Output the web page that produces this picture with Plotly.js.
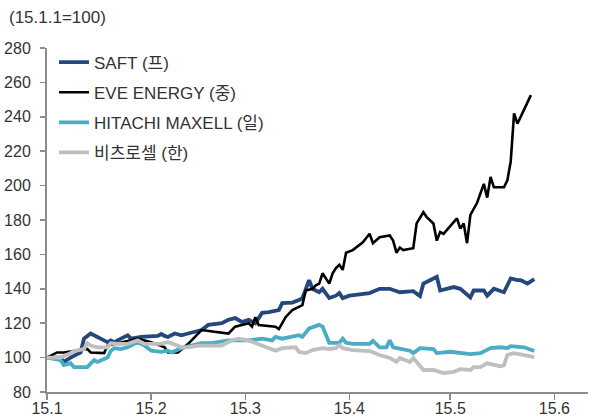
<!DOCTYPE html>
<html>
<head>
<meta charset="utf-8">
<script src="https://cdn.plot.ly/plotly-3.0.1.min.js"></script>
<style>html,body{margin:0;padding:0;background:#fff;}#chart{width:595px;height:418px;}</style>
</head>
<body>
<div id="chart"></div>
<script>
const seriesNames = ['SAFT (프)', 'EVE ENERGY (중)', 'HITACHI MAXELL (일)', '비츠로셀 (한)'];

const saftDates = ['2015-01-01','2015-01-05','2015-01-06','2015-01-08','2015-01-11','2015-01-12','2015-01-14','2015-01-16','2015-01-19','2015-01-20','2015-01-21','2015-01-23','2015-01-25','2015-01-26','2015-01-29','2015-02-03','2015-02-04','2015-02-05','2015-02-06','2015-02-08','2015-02-10','2015-02-12','2015-02-16','2015-02-18','2015-02-22','2015-02-24','2015-02-26','2015-02-28','2015-03-02','2015-03-04','2015-03-06','2015-03-08','2015-03-11','2015-03-12','2015-03-15','2015-03-17','2015-03-18','2015-03-20','2015-03-21','2015-03-23','2015-03-24','2015-03-26','2015-03-28','2015-03-29','2015-03-30','2015-04-01','2015-04-04','2015-04-07','2015-04-10','2015-04-11','2015-04-13','2015-04-16','2015-04-19','2015-04-20','2015-04-22','2015-04-23','2015-04-25','2015-04-27','2015-04-28','2015-05-02','2015-05-04','2015-05-07','2015-05-08','2015-05-11','2015-05-12','2015-05-14','2015-05-17','2015-05-19','2015-05-21','2015-05-22','2015-05-24','2015-05-26'];
const saftValues = [100,100,97.5,100,103,111,114,112,109,110,109,111,113,111,112,112.6,113.7,112.6,112,114,113,114,116,119,120,122,123,120.7,122,120,126,126.5,127.6,131.7,132,133.5,134.6,145,140,138,140,134.6,136,137.5,134.6,136,137,137.5,140,140,140,138,138.6,138.6,135.8,143,145,147,139,141,140,135,139,139,136,140,138,146,145,145,143,145.6];

const eveDates = ['2015-01-01','2015-01-04','2015-01-06','2015-01-09','2015-01-13','2015-01-14','2015-01-18','2015-01-19','2015-01-22','2015-01-25','2015-01-28','2015-02-01','2015-02-05','2015-02-06','2015-02-09','2015-02-12','2015-02-16','2015-02-21','2015-02-24','2015-02-26','2015-03-02','2015-03-03','2015-03-04','2015-03-05','2015-03-10','2015-03-11','2015-03-13','2015-03-15','2015-03-18','2015-03-19','2015-03-21','2015-03-22','2015-03-23','2015-03-24','2015-03-26','2015-03-27','2015-03-28','2015-03-29','2015-03-30','2015-03-31','2015-04-02','2015-04-05','2015-04-07','2015-04-08','2015-04-10','2015-04-13','2015-04-14','2015-04-15','2015-04-16','2015-04-17','2015-04-20','2015-04-21','2015-04-23','2015-04-24','2015-04-26','2015-04-27','2015-04-28','2015-04-29','2015-05-03','2015-05-04','2015-05-05','2015-05-06','2015-05-07','2015-05-09','2015-05-11','2015-05-12','2015-05-13','2015-05-14','2015-05-17','2015-05-18','2015-05-19','2015-05-20','2015-05-21','2015-05-25'];
const eveValues = [100,103,103,104,105,103,102.6,107,108.5,109.6,111,109,106,103,103,108,116,115,114,118,120,118,123.5,119,118,116.6,123.5,127.6,130.5,139,140,142,143,149,143,149,152,154,151,161,162.5,167,172,166.5,170,171,168,161,164,162.5,163.6,178,184.5,181.7,178,168,173,172,181,175,178,166.5,183,190,201,193,205,199,199,203,214,242,236,252.6];

const maxellDates = ['2015-01-01','2015-01-05','2015-01-06','2015-01-08','2015-01-09','2015-01-12','2015-01-13','2015-01-15','2015-01-16','2015-01-19','2015-01-20','2015-01-21','2015-01-23','2015-01-25','2015-01-26','2015-01-28','2015-01-30','2015-02-01','2015-02-04','2015-02-06','2015-02-07','2015-02-10','2015-02-13','2015-02-16','2015-02-19','2015-02-21','2015-02-24','2015-03-02','2015-03-06','2015-03-09','2015-03-10','2015-03-12','2015-03-14','2015-03-17','2015-03-18','2015-03-20','2015-03-23','2015-03-24','2015-03-26','2015-03-29','2015-03-30','2015-03-31','2015-04-02','2015-04-07','2015-04-08','2015-04-10','2015-04-12','2015-04-13','2015-04-14','2015-04-17','2015-04-19','2015-04-20','2015-04-22','2015-04-26','2015-04-27','2015-05-01','2015-05-07','2015-05-10','2015-05-13','2015-05-16','2015-05-18','2015-05-19','2015-05-23','2015-05-26'];
const maxellValues = [100,98.6,95.7,96.8,94.5,94.5,94.5,98.6,97.5,100,104,105.5,105,106,107,109,107,104,103.3,104,103,105.5,107,108.4,108.4,109,110,110,111,110,112,111,112,113,112,117,119,118,108.6,108.6,111,108.6,108,108,109.7,106,106,110,106,105,104,102.6,105.5,105,102.6,103.4,102,102.6,105.5,106,105.5,106.7,106,103.8];

const vitzroDates = ['2015-01-01','2015-01-05','2015-01-08','2015-01-09','2015-01-12','2015-01-13','2015-01-14','2015-01-16','2015-01-19','2015-01-20','2015-01-22','2015-01-25','2015-01-28','2015-01-30','2015-02-01','2015-02-04','2015-02-06','2015-02-07','2015-02-10','2015-02-12','2015-02-15','2015-02-22','2015-02-25','2015-02-27','2015-03-02','2015-03-04','2015-03-06','2015-03-10','2015-03-12','2015-03-16','2015-03-17','2015-03-19','2015-03-21','2015-03-24','2015-03-26','2015-03-28','2015-03-29','2015-03-30','2015-04-02','2015-04-07','2015-04-10','2015-04-11','2015-04-13','2015-04-15','2015-04-16','2015-04-19','2015-04-20','2015-04-23','2015-04-26','2015-04-29','2015-05-02','2015-05-04','2015-05-07','2015-05-08','2015-05-10','2015-05-12','2015-05-13','2015-05-16','2015-05-17','2015-05-18','2015-05-20','2015-05-23','2015-05-26'];
const vitzroValues = [100,100,102.6,103.8,105,108.4,107,106,106,108.4,108,108,110,108,108,108,109,108.4,106,106,107,107,110,111,110,108.4,107,104,105.5,106,103.3,102.6,104.4,105.5,105,105.5,107.3,105.5,104.4,103.8,101.5,101,99.8,97.5,99.8,97.5,99.8,92.8,92.8,91,91.7,93.3,92.8,94.5,94.5,96.8,96.2,95,95.6,101.5,102.6,101.5,100.3];

const xTickVals = ['2015-01-01','2015-02-01','2015-03-01','2015-04-01','2015-05-01','2015-06-01'];
const xTickText = ['15.1','15.2','15.3','15.4','15.5','15.6'];
const yTickVals = [80,100,120,140,160,180,200,220,240,260,280];

const colors = ['#24487c', '#000000', '#4bacc6', '#bfbfbf'];
const widths = [3.8, 2.6, 3.8, 3.8];
const allDates = [saftDates, eveDates, maxellDates, vitzroDates];
const allValues = [saftValues, eveValues, maxellValues, vitzroValues];

const traces = seriesNames.map((name, i) => ({
  type: 'scatter', mode: 'lines', name: name,
  x: allDates[i], y: allValues[i],
  line: {color: colors[i], width: widths[i]},
  legendgroup: 'g' + i
}));

const family = '"Liberation Sans", Arial, "Noto Sans CJK KR", sans-serif';
const tickFont = {family: family, size: 16, color: '#333333'};
const textFont = {family: family, size: 17, color: '#333333'};

const layout = {
  width: 595, height: 418,
  margin: {l: 47, r: 7, t: 48, b: 26},
  paper_bgcolor: '#ffffff', plot_bgcolor: '#ffffff',
  font: tickFont,
  showlegend: true,
  legend: {
    x: 0.013, y: 1.01, xanchor: 'left', yanchor: 'top',
    bgcolor: 'rgba(0,0,0,0)', borderwidth: 0,
    font: textFont, tracegroupgap: 5, traceorder: 'grouped'
  },
  xaxis: {
    type: 'date', range: ['2015-01-01', '2015-06-11'],
    tickvals: xTickVals, ticktext: xTickText,
    showgrid: false, zeroline: false,
    showline: true, linecolor: '#8c8c8c', linewidth: 2,
    ticks: 'outside', ticklen: 6, tickwidth: 1.5, tickcolor: '#8c8c8c',
    tickfont: tickFont, ticklabelstandoff: -5, automargin: false, fixedrange: true
  },
  yaxis: {
    range: [80, 280], tickvals: yTickVals,
    showgrid: false, zeroline: false,
    showline: true, linecolor: '#8c8c8c', linewidth: 2,
    ticks: 'outside', ticklen: 5, tickwidth: 1.5, tickcolor: '#8c8c8c',
    tickfont: tickFont, ticklabelstandoff: 6, automargin: false, fixedrange: true
  },
  annotations: [{
    text: '(15.1.1=100)', xref: 'paper', yref: 'paper',
    x: -0.074, y: 1.09, xanchor: 'left', yanchor: 'middle',
    showarrow: false, font: textFont
  }]
};

Plotly.newPlot('chart', traces, layout, {staticPlot: true, displayModeBar: false});
</script>
</body>
</html>
